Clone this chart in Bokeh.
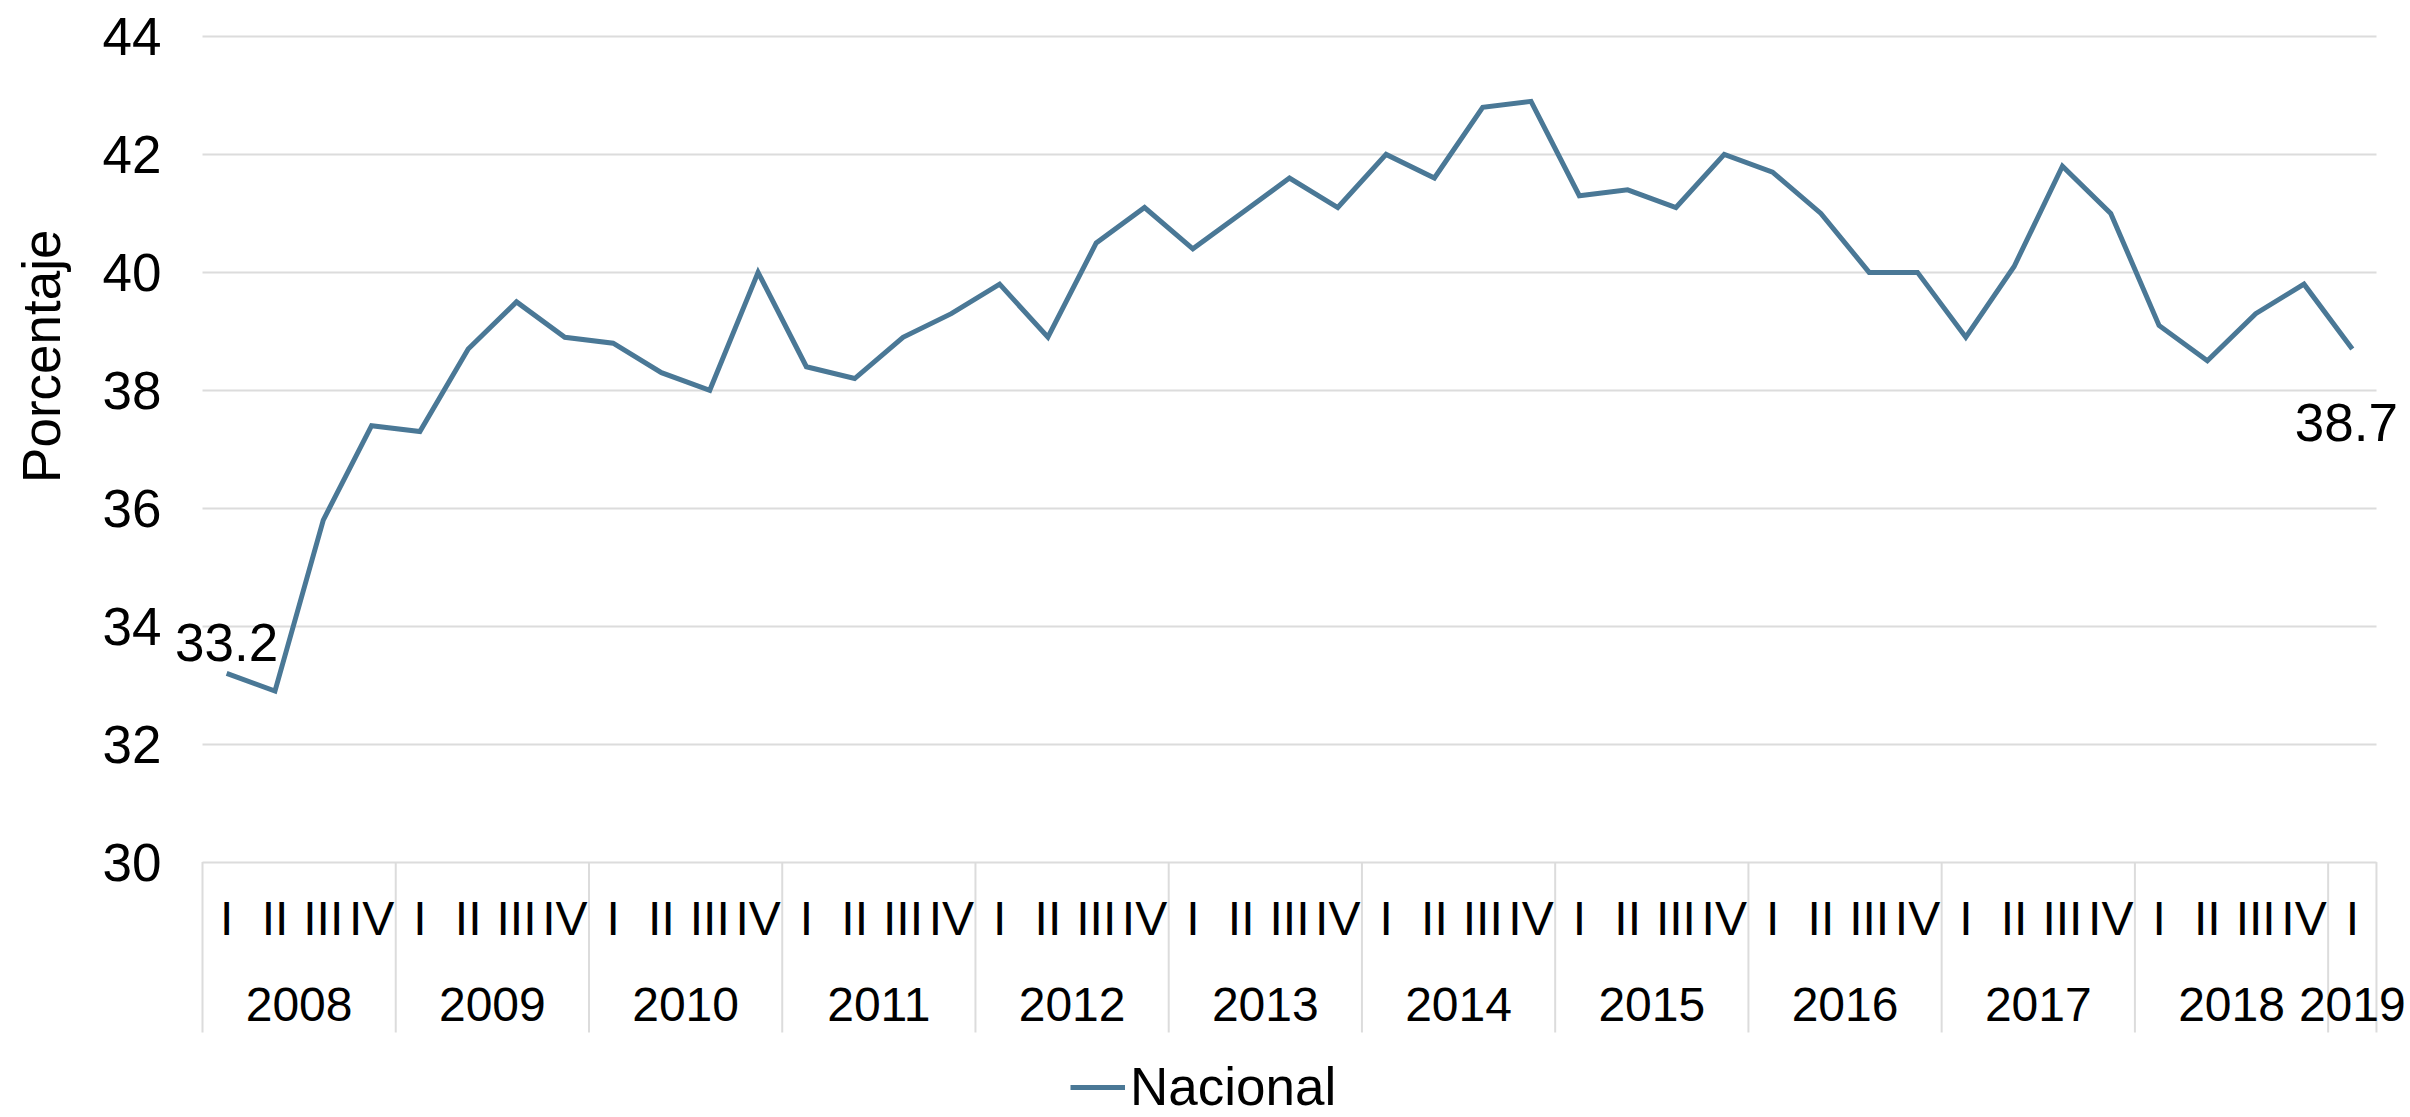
import numpy as np
from bokeh.plotting import figure
from bokeh.models import (Range1d, FixedTicker, ColumnDataSource, LabelSet, Label,
                          Legend, LegendItem, Title)
from bokeh.core.properties import value
from bokeh.embed import file_html
from bokeh.resources import INLINE

# ---------------- data ----------------
years = ["2008", "2009", "2010", "2011", "2012", "2013", "2014", "2015",
         "2016", "2017", "2018", "2019"]
quarters_per_year = [4, 4, 4, 4, 4, 4, 4, 4, 4, 4, 4, 1]
quarter_names = ["I", "II", "III", "IV"]
values = [33.2, 32.9, 35.8, 37.4,
          37.3, 38.7, 39.5, 38.9,
          38.8, 38.3, 38.0, 40.0,
          38.4, 38.2, 38.9, 39.3,
          39.8, 38.9, 40.5, 41.1,
          40.4, 41.0, 41.6, 41.1,
          42.0, 41.6, 42.8, 42.9,
          41.3, 41.4, 41.1, 42.0,
          41.7, 41.0, 40.0, 40.0,
          38.9, 40.1, 41.8, 41.0,
          39.1, 38.5, 39.3, 39.8,
          38.7]
y_ticks = [30, 32, 34, 36, 38, 40, 42, 44]
series_name = "Nacional"
y_title = "Porcentaje"

# ---------------- derived positions ----------------
n = len(values)
xs = np.arange(n) + 0.5
q_labels = [quarter_names[q] for c in quarters_per_year for q in range(c)]
bounds = np.concatenate([[0], np.cumsum(quarters_per_year)])
year_centers = (bounds[:-1] + bounds[1:]) / 2.0

FONT = "Liberation Sans"
LINE_COLOR = "#4a7896"
GRID_COLOR = "#dcdcdc"

# ---------------- layout (pixels) ----------------
W, H = 2410, 1117
FRAME_L, FRAME_T = 170, 18          # frame edges on the page
PLOT_L = 202                        # where the category band starts
PX_SLOT = 48.31                     # px per quarter
TOP_TICK_PX = 36                    # px of the top gridline
PX_UNIT = 58.97                     # px per value unit

x_start = -(PLOT_L - FRAME_L) / PX_SLOT
x_end = x_start + (W - FRAME_L) / PX_SLOT
y_end = y_ticks[-1] + (TOP_TICK_PX - FRAME_T) / PX_UNIT
y_start = y_ticks[-1] - (H - TOP_TICK_PX) / PX_UNIT

def px_to_y(py):
    return y_ticks[-1] - (py - TOP_TICK_PX) / PX_UNIT

Q_LABEL_Y = px_to_y(918)
YEAR_LABEL_Y = px_to_y(1004)
SEP_BOTTOM = px_to_y(1032)

p = figure(width=W, height=H, output_backend="svg", toolbar_location=None,
           x_range=Range1d(x_start, x_end), y_range=Range1d(y_start, y_end),
           x_axis_location=None, min_border_left=FRAME_L, min_border_right=0,
           min_border_top=FRAME_T, min_border_bottom=0)
p.outline_line_color = None
p.background_fill_color = "white"
p.border_fill_color = "white"

# y axis
ax = p.yaxis[0]
ax.ticker = FixedTicker(ticks=y_ticks)
ax.axis_line_color = None
ax.major_tick_line_color = None
ax.minor_tick_line_color = None
ax.major_tick_out = 0
ax.major_tick_in = 0
ax.major_label_standoff = 9
ax.major_label_text_font = FONT
ax.major_label_text_font_size = "53px"
ax.major_label_text_color = "black"
# blank axis label used only as spacing between tick labels and the title
ax.axis_label = " "
ax.axis_label_text_font_size = "1px"
ax.axis_label_standoff = 17

p.ygrid.ticker = FixedTicker(ticks=y_ticks)
p.ygrid.grid_line_color = GRID_COLOR
p.ygrid.grid_line_width = 2
p.ygrid.cross_bounds = (0, n)
for g in p.xgrid:
    g.visible = False

# y title on the left
p.add_layout(Title(text=y_title, align="right", offset=211,
                   text_font=FONT, text_font_size="53px", text_font_style="normal",
                   text_color="black", standoff=16), "left")

# group separators on the category axis
sep_src = ColumnDataSource(dict(x=bounds.astype(float),
                                y0=[y_ticks[0]] * len(bounds),
                                y1=[SEP_BOTTOM] * len(bounds)))
p.segment(x0="x", y0="y0", x1="x", y1="y1", source=sep_src,
          line_color=GRID_COLOR, line_width=2)

# the series
src = ColumnDataSource(dict(x=xs, y=values))
r = p.line("x", "y", source=src, line_color=LINE_COLOR, line_width=5,
           line_join="miter")

# quarter and year labels
q_src = ColumnDataSource(dict(x=xs, y=[Q_LABEL_Y] * n, t=q_labels))
p.add_layout(LabelSet(x="x", y="y", text="t", source=q_src, text_align="center",
                      text_baseline="middle", text_font=value(FONT),
                      text_font_size=value("48px"), text_color="black"))
yr_src = ColumnDataSource(dict(x=year_centers, y=[YEAR_LABEL_Y] * len(years), t=years))
p.add_layout(LabelSet(x="x", y="y", text="t", source=yr_src, text_align="center",
                      text_baseline="middle", text_font=value(FONT),
                      text_font_size=value("48px"), text_color="black"))

# first / last value labels
p.add_layout(Label(x=xs[0], y=values[0] + 31 / PX_UNIT, text=f"{values[0]:.1f}",
                   text_align="center", text_baseline="alphabetic",
                   text_font=FONT, text_font_size="53px", text_color="black"))
p.add_layout(Label(x=xs[-1] - 6 / PX_SLOT, y=values[-1] - 73 / PX_UNIT,
                   text=f"{values[-1]:.1f}",
                   text_align="center", text_baseline="alphabetic",
                   text_font=FONT, text_font_size="53px", text_color="black"))

legend = Legend(items=[LegendItem(label=series_name, renderers=[r])],
                location=(1070 - FRAME_L, 0), orientation="horizontal",
                glyph_width=55, glyph_height=20, label_standoff=5,
                padding=0, spacing=0, margin=0,
                label_text_font=FONT, label_text_font_size="53px",
                label_text_color="black",
                border_line_color=None, background_fill_alpha=0)
p.add_layout(legend, "center")

open("out.html", "w").write(file_html(p, INLINE))
